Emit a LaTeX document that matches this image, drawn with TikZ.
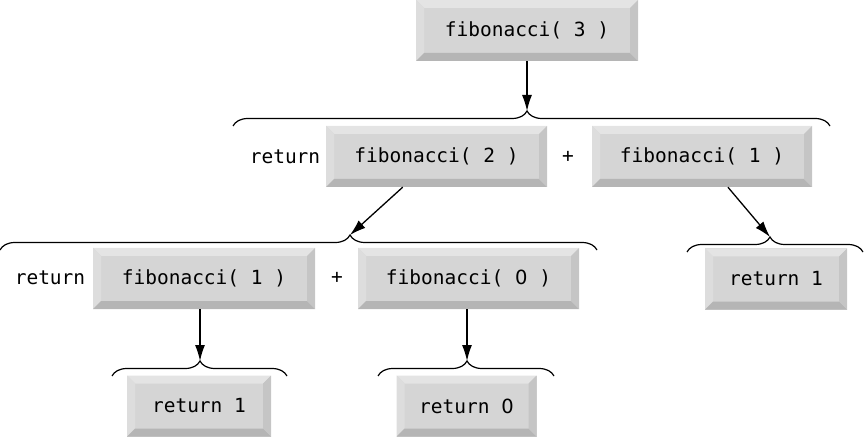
\documentclass[tikz,border=0pt]{standalone}
\usepackage{fontspec}
\setmonofont{DejaVu Sans Mono}
\newfontfamily\zerofont{DejaVu Sans}
\usetikzlibrary{arrows.meta,decorations.pathreplacing}
\definecolor{btnface}{HTML}{D5D5D5}
\definecolor{btntop}{HTML}{E4E4E4}
\definecolor{btnleft}{HTML}{DDDDDD}
\definecolor{btnbottom}{HTML}{B5B5B5}
\definecolor{btnright}{HTML}{C5C5C5}
\tikzset{
  button/.style={minimum width=#1,minimum height=61pt,inner sep=0pt,fill=btnface,
    path picture={
      \fill[btntop] (path picture bounding box.north west)--(path picture bounding box.north east)
        --([shift={(-8pt,-8pt)}]path picture bounding box.north east)--([shift={(8pt,-8pt)}]path picture bounding box.north west)--cycle;
      \fill[btnleft] (path picture bounding box.north west)--(path picture bounding box.south west)
        --([shift={(8pt,8pt)}]path picture bounding box.south west)--([shift={(8pt,-8pt)}]path picture bounding box.north west)--cycle;
      \fill[btnbottom] (path picture bounding box.south west)--(path picture bounding box.south east)
        --([shift={(-8pt,8pt)}]path picture bounding box.south east)--([shift={(8pt,8pt)}]path picture bounding box.south west)--cycle;
      \fill[btnright] (path picture bounding box.north east)--(path picture bounding box.south east)
        --([shift={(-8pt,8pt)}]path picture bounding box.south east)--([shift={(-8pt,-8pt)}]path picture bounding box.north east)--cycle;
    }},
  callbrace/.style={line width=1.2pt,decorate,decoration={brace,amplitude=15pt,aspect=#1}},
  callarrow/.style={line width=1.3pt,-{Latex[length=16pt,width=10pt]}}
}
\begin{document}
\begin{tikzpicture}[x=1pt,y=-1pt,font=\ttfamily\fontsize{19.5}{22}\selectfont]
\useasboundingbox (0,0) rectangle (864,438);
% first call
\node[button=222pt] (fib3) at (527,30.5) {fibonacci( 3 )};
\draw[callbrace=0.4925] (233,126)--(830,126);
\coordinate (tip1) at (527,111);
\draw[callarrow] (fib3)--(tip1);
% second level
\node (ret2) at (285,157) {return};
\node[button=221pt] (fib2) at (436.5,156.5) {fibonacci( 2 )};
\node (plus2) at (568,157) {+};
\node[button=220pt] (fib1a) at (702,156.5) {fibonacci( 1 )};
\draw[callbrace=0.5863] (0,250)--(597,250);
\coordinate (tip2) at (350,235);
\draw[callarrow] (fib2)--(tip2);
\draw[callbrace=0.4716] (687,252)--(863,252);
\coordinate (tip3) at (770,237);
\draw[callarrow] (fib1a)--(tip3);
\node[button=142pt] (ret1a) at (776,279) {return 1};
% third level
\node (ret3) at (50,278) {return};
\node[button=222pt] (fib1b) at (204,278.5) {fibonacci( 1 )};
\node (plus3) at (337,278) {+};
\node[button=221pt] (fib0) at (468.5,278.5) {fibonacci( {\zerofont 0} )};
\draw[callbrace=0.5029] (112,376)--(287,376);
\coordinate (tip4) at (200,361);
\draw[callarrow] (fib1b.south -| tip4)--(tip4);
\draw[callbrace=0.5057] (378,376)--(554,376);
\coordinate (tip5) at (467,361);
\draw[callarrow] (fib0.south -| tip5)--(tip5);
\node[button=144pt] (ret1b) at (199,406) {return 1};
\node[button=140pt] (ret0) at (466.5,406) {return {\zerofont 0}};
\end{tikzpicture}
\end{document}
